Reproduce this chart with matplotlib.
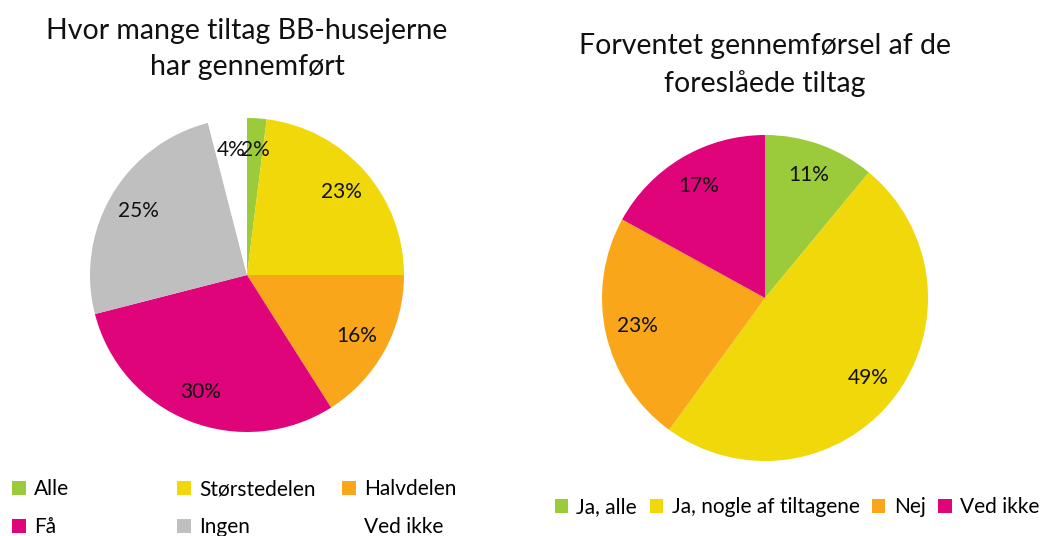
import matplotlib.pyplot as plt
from matplotlib.patches import Patch

plt.rcParams['font.family'] = ['Lato', 'DejaVu Sans']

# Left chart data
left_title = "Hvor mange tiltag BB-husejerne\nhar gennemført"
left_labels = ["Alle", "Størstedelen", "Halvdelen", "Få", "Ingen", "Ved ikke"]
left_values = [2, 23, 16, 30, 25, 4]
left_colors = ["#9BCB3B", "#F0D80A", "#F9A61B", "#E0047A", "#BFBFBF", "#FFFFFF"]

# Right chart data
right_title = "Forventet gennemførsel af de\nforeslåede tiltag"
right_labels = ["Ja, alle", "Ja, nogle af tiltagene", "Nej", "Ved ikke"]
right_values = [11, 49, 23, 17]
right_colors = ["#9BCB3B", "#F0D80A", "#F9A61B", "#E0047A"]

W, H = 1040, 536
fig = plt.figure(figsize=(W / 100, H / 100), dpi=100)


def pie_axes(cx, cy, r):
    # square axes placed by pixel centre and radius
    return fig.add_axes([(cx - r) / W, (H - cy - r) / H, 2 * r / W, 2 * r / H])


def draw_pie(ax, values, colors, dist):
    ax.pie(values, colors=colors, startangle=90, counterclock=False,
           labels=[f"{v}%" for v in values], labeldistance=dist,
           textprops=dict(fontsize=15, color="#111111", ha="center", va="center"),
           wedgeprops=dict(linewidth=0))
    ax.set_xlim(-1, 1)
    ax.set_ylim(-1, 1)


ax1 = pie_axes(247, 275, 157)
draw_pie(ax1, left_values, left_colors, 0.8)
fig.text(247 / W, 1 - 49 / H, left_title, ha="center", va="center",
         fontsize=20.5, linespacing=1.45, color="#111111")

ax2 = pie_axes(765, 298, 163)
draw_pie(ax2, right_values, right_colors, 0.8)
fig.text(765 / W, 1 - 65 / H, right_title, ha="center", va="center",
         fontsize=20.5, linespacing=1.5, color="#111111")

# left legend: three columns at fixed positions
handles = [Patch(facecolor=c, edgecolor="none") for c in left_colors]
for col, x in enumerate([2, 167, 332]):
    idx = [col, col + 3]
    fig.legend([handles[i] for i in idx], [left_labels[i] for i in idx],
               loc="upper left", bbox_to_anchor=(x / W, 1 - 469 / H),
               frameon=False, fontsize=15, handlelength=0.65, handleheight=0.65,
               handletextpad=0.4, labelspacing=0.85, borderpad=0)

# right legend: one row
rhandles = [Patch(facecolor=c, edgecolor="none") for c in right_colors]
fig.legend(rhandles, right_labels, loc="center", bbox_to_anchor=(797 / W, 1 - 507 / H),
           ncol=4, frameon=False, fontsize=15, handlelength=0.65, handleheight=0.65,
           handletextpad=0.4, columnspacing=0.6, borderpad=0)

fig.savefig("out.png", dpi=100)
